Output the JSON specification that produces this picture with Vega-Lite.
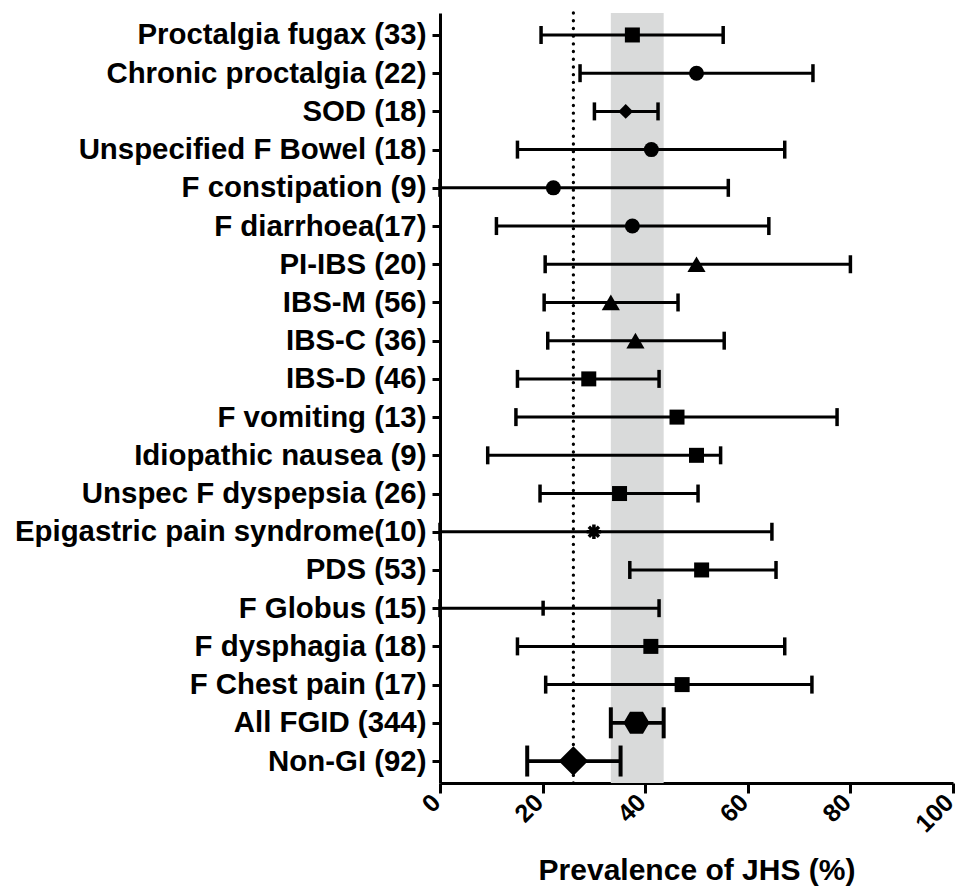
{
  "$schema": "https://vega.github.io/schema/vega-lite/v6.json",
  "width": 513,
  "height": 770,
  "autosize": {"type": "none"},
  "padding": {"left": 440, "top": 13, "right": 8, "bottom": 109},
  "background": "white",
  "config": {
    "view": {"stroke": null},
    "font": "Liberation Sans",
    "axisX": {
      "domainWidth": 3, "domainColor": "black", "tickColor": "black", "tickWidth": 3, "tickSize": 10,
      "labelFontSize": 25, "labelFontWeight": "bold", "labelColor": "black", "labelAngle": -45,
      "labelAlign": "right", "labelBaseline": "middle", "labelPadding": 5, "labelOffset": -4,
      "labelFlush": false, "labelOverlap": false,
      "titleFontSize": 30, "titleFontWeight": "bold", "titleColor": "black", "titlePadding": 19,
      "grid": false, "tickCount": 5
    },
    "axisY": {
      "domainWidth": 3, "domainColor": "black", "tickColor": "black", "tickWidth": 3, "tickSize": 8,
      "labelFontSize": 29.4, "labelFontWeight": "bold", "labelColor": "black", "labelPadding": 6, "labelLimit": 0,
      "grid": false
    }
  },
  "data": {
    "values": [
      {"label": "Proctalgia fugax (33)", "mean": 37.5, "low": 19.7, "high": 55.2},
      {"label": "Chronic proctalgia (22)", "mean": 50.0, "low": 27.3, "high": 72.7},
      {"label": "SOD (18)", "mean": 36.2, "low": 30.1, "high": 42.5},
      {"label": "Unspecified F Bowel (18)", "mean": 41.2, "low": 15.1, "high": 67.2},
      {"label": "F constipation (9)", "mean": 22.1, "low": 0, "high": 56.2},
      {"label": "F diarrhoea(17)", "mean": 37.5, "low": 11.0, "high": 64.1},
      {"label": "PI-IBS (20)", "mean": 50.0, "low": 20.5, "high": 80.0},
      {"label": "IBS-M (56)", "mean": 33.3, "low": 20.3, "high": 46.4},
      {"label": "IBS-C (36)", "mean": 38.1, "low": 21.0, "high": 55.4},
      {"label": "IBS-D (46)", "mean": 29.0, "low": 15.1, "high": 42.7},
      {"label": "F vomiting (13)", "mean": 46.2, "low": 14.8, "high": 77.4},
      {"label": "Idiopathic nausea (9)", "mean": 50.0, "low": 9.3, "high": 54.7},
      {"label": "Unspec F dyspepsia (26)", "mean": 35.0, "low": 19.5, "high": 50.3},
      {"label": "Epigastric pain syndrome(10)", "mean": 30.0, "low": 0, "high": 64.7},
      {"label": "PDS (53)", "mean": 51.0, "low": 37.0, "high": 65.5},
      {"label": "F Globus (15)", "mean": 20.1, "low": 0, "high": 42.7},
      {"label": "F dysphagia (18)", "mean": 41.1, "low": 15.1, "high": 67.2},
      {"label": "F Chest pain (17)", "mean": 47.2, "low": 20.6, "high": 72.5},
      {"label": "All FGID (344)", "mean": 38.3, "low": 33.3, "high": 43.6},
      {"label": "Non-GI (92)", "mean": 26.0, "low": 17.0, "high": 35.2}
    ]
  },
  "layer": [
    {
      "transform": [{"filter": {"field": "label", "equal": "All FGID (344)"}}],
      "mark": {"type": "rect", "color": "#d9dada"},
      "encoding": {
        "x": {"field": "low", "type": "quantitative", "scale": {"domain": [0, 100], "nice": false}, "title": "Prevalence of JHS (%)"},
        "x2": {"field": "high"}
      }
    },
    {
      "transform": [{"filter": {"field": "label", "equal": "Non-GI (92)"}}],
      "mark": {"type": "rule", "color": "black", "strokeWidth": 3.3, "strokeDash": [0.1, 7.6], "strokeCap": "round"},
      "encoding": {
        "x": {"field": "mean", "type": "quantitative", "title": "Prevalence of JHS (%)"}
      }
    },
    {
      "transform": [{"filter": {"not": {"field": "label", "oneOf": ["All FGID (344)", "Non-GI (92)"]}}}],
      "layer": [
        {
          "mark": {"type": "rule", "color": "black", "strokeWidth": 3},
          "encoding": {
            "x": {"field": "low", "type": "quantitative", "title": "Prevalence of JHS (%)"},
            "x2": {"field": "high"},
            "y": {"field": "label", "type": "nominal", "sort": null, "scale": {"type": "point", "padding": 0.575}, "title": null}
          }
        },
        {
          "mark": {"type": "tick", "color": "black", "size": 18, "thickness": 3.5, "opacity": 1},
          "encoding": {
            "x": {"field": "low", "type": "quantitative", "title": "Prevalence of JHS (%)"},
            "y": {"field": "label", "type": "nominal", "sort": null, "title": null}
          }
        },
        {
          "mark": {"type": "tick", "color": "black", "size": 18, "thickness": 3.5, "opacity": 1},
          "encoding": {
            "x": {"field": "high", "type": "quantitative", "title": "Prevalence of JHS (%)"},
            "y": {"field": "label", "type": "nominal", "sort": null, "title": null}
          }
        }
      ]
    },
    {
      "transform": [{"filter": {"field": "label", "oneOf": ["All FGID (344)", "Non-GI (92)"]}}],
      "layer": [
        {
          "mark": {"type": "rule", "color": "black", "strokeWidth": 3.8},
          "encoding": {
            "x": {"field": "low", "type": "quantitative", "title": "Prevalence of JHS (%)"},
            "x2": {"field": "high"},
            "y": {"field": "label", "type": "nominal", "sort": null, "title": null}
          }
        },
        {
          "mark": {"type": "tick", "color": "black", "size": 31, "thickness": 4, "opacity": 1},
          "encoding": {
            "x": {"field": "low", "type": "quantitative", "title": "Prevalence of JHS (%)"},
            "y": {"field": "label", "type": "nominal", "sort": null, "title": null}
          }
        },
        {
          "mark": {"type": "tick", "color": "black", "size": 31, "thickness": 4, "opacity": 1},
          "encoding": {
            "x": {"field": "high", "type": "quantitative", "title": "Prevalence of JHS (%)"},
            "y": {"field": "label", "type": "nominal", "sort": null, "title": null}
          }
        }
      ]
    },
    {
      "transform": [{"filter": {"field": "label", "oneOf": ["Proctalgia fugax (33)", "IBS-D (46)", "F vomiting (13)", "Idiopathic nausea (9)", "Unspec F dyspepsia (26)", "PDS (53)", "F dysphagia (18)", "F Chest pain (17)"]}}],
      "mark": {"type": "point", "shape": "square", "filled": true, "color": "black", "opacity": 1, "size": 225},
      "encoding": {
        "x": {"field": "mean", "type": "quantitative", "title": "Prevalence of JHS (%)"},
        "y": {"field": "label", "type": "nominal", "sort": null, "title": null}
      }
    },
    {
      "transform": [{"filter": {"field": "label", "oneOf": ["Chronic proctalgia (22)", "Unspecified F Bowel (18)", "F constipation (9)", "F diarrhoea(17)"]}}],
      "mark": {"type": "point", "shape": "circle", "filled": true, "color": "black", "opacity": 1, "size": 225},
      "encoding": {
        "x": {"field": "mean", "type": "quantitative", "title": "Prevalence of JHS (%)"},
        "y": {"field": "label", "type": "nominal", "sort": null, "title": null}
      }
    },
    {
      "transform": [{"filter": {"field": "label", "equal": "SOD (18)"}}],
      "mark": {"type": "point", "shape": "diamond", "filled": true, "color": "black", "opacity": 1, "size": 220},
      "encoding": {
        "x": {"field": "mean", "type": "quantitative", "title": "Prevalence of JHS (%)"},
        "y": {"field": "label", "type": "nominal", "sort": null, "title": null}
      }
    },
    {
      "transform": [{"filter": {"field": "label", "oneOf": ["PI-IBS (20)", "IBS-M (56)", "IBS-C (36)"]}}],
      "mark": {"type": "point", "shape": "triangle-up", "filled": true, "color": "black", "opacity": 1, "size": 330},
      "encoding": {
        "x": {"field": "mean", "type": "quantitative", "title": "Prevalence of JHS (%)"},
        "y": {"field": "label", "type": "nominal", "sort": null, "title": null}
      }
    },
    {
      "transform": [{"filter": {"field": "label", "equal": "Epigastric pain syndrome(10)"}}],
      "mark": {"type": "point", "shape": "M-1,0L1,0M0,-1L0,1M-0.7,-0.7L0.7,0.7M-0.7,0.7L0.7,-0.7", "filled": false, "color": "black", "strokeWidth": 3.5, "opacity": 1, "size": 210},
      "encoding": {
        "x": {"field": "mean", "type": "quantitative", "title": "Prevalence of JHS (%)"},
        "y": {"field": "label", "type": "nominal", "sort": null, "title": null}
      }
    },
    {
      "transform": [{"filter": {"field": "label", "equal": "F Globus (15)"}}],
      "mark": {"type": "point", "shape": "M0,-1L0,1", "filled": false, "color": "black", "strokeWidth": 3.5, "opacity": 1, "size": 225},
      "encoding": {
        "x": {"field": "mean", "type": "quantitative", "title": "Prevalence of JHS (%)"},
        "y": {"field": "label", "type": "nominal", "sort": null, "title": null}
      }
    },
    {
      "transform": [{"filter": {"field": "label", "equal": "All FGID (344)"}}],
      "mark": {"type": "point", "shape": "M-1,0L-0.5,-0.85L0.5,-0.85L1,0L0.5,0.85L-0.5,0.85Z", "filled": true, "color": "black", "opacity": 1, "size": 676},
      "encoding": {
        "x": {"field": "mean", "type": "quantitative", "title": "Prevalence of JHS (%)"},
        "y": {"field": "label", "type": "nominal", "sort": null, "title": null}
      }
    },
    {
      "transform": [{"filter": {"field": "label", "equal": "Non-GI (92)"}}],
      "mark": {"type": "point", "shape": "diamond", "filled": true, "color": "black", "opacity": 1, "size": 870},
      "encoding": {
        "x": {"field": "mean", "type": "quantitative", "title": "Prevalence of JHS (%)"},
        "y": {"field": "label", "type": "nominal", "sort": null, "title": null}
      }
    }
  ]
}
